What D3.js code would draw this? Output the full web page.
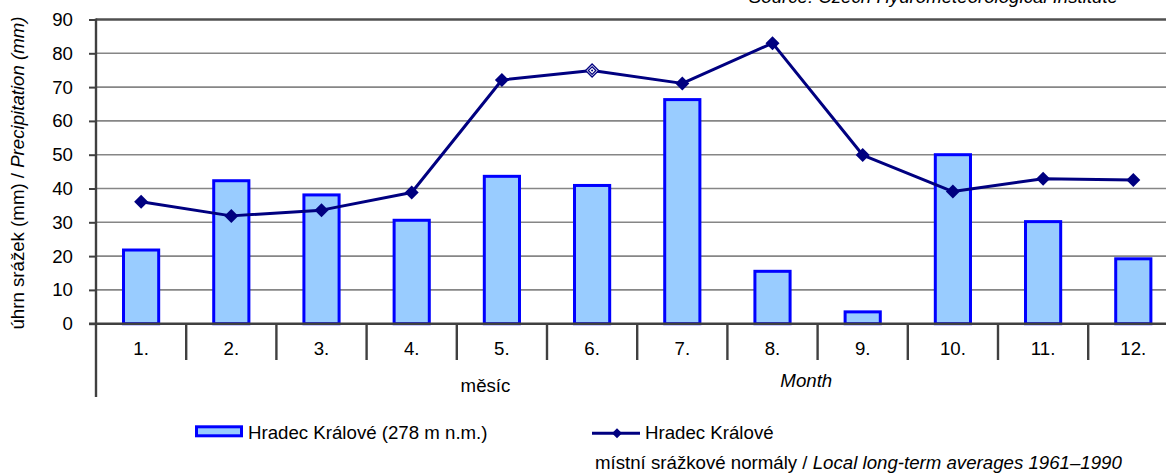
<!DOCTYPE html>
<html>
<head>
<meta charset="utf-8">
<script src="https://cdn.jsdelivr.net/npm/d3@7"></script>
<style>
  html, body { margin: 0; padding: 0; background: #fff; overflow: hidden; }
  svg { display: block; }
  text { font-family: "Liberation Sans", Arial, sans-serif; fill: #000; }
</style>
</head>
<body>
<svg id="chart" width="1166" height="473"></svg>
<script>
// ---- data ----
const months = ["1.", "2.", "3.", "4.", "5.", "6.", "7.", "8.", "9.", "10.", "11.", "12."];
const stationValues = [21.8, 42.3, 38.1, 30.6, 43.6, 40.9, 66.3, 15.5, 3.5, 50.0, 30.2, 19.2];
const normalValues = [36.1, 31.9, 33.6, 38.8, 72.1, 74.9, 71.1, 83.0, 49.9, 39.1, 42.9, 42.5];
const yTicks = [0, 10, 20, 30, 40, 50, 60, 70, 80, 90];
const hollowMarkerIndex = [5];
const yTitleCz = "úhrn srážek (mm) / ";
const yTitleEn = "Precipitation (mm)";
const xTitleCz = "měsíc";
const xTitleEn = "Month";
const legendBar = "Hradec Králové (278 m n.m.)";
const legendLine = "Hradec Králové";
const footerCz = "místní srážkové normály / ";
const footerEn = "Local long-term averages 1961–1990";
const sourceText = "Source: Czech Hydrometeorological Institute";

// ---- layout ----
const svg = d3.select("#chart");
const plotLeft = 96, plotRight = 1178.4, plotTop = 19.5, plotBottom = 323.7;
const fs = 18.67;
const axisColor = "#404040", gridColor = "#868686";

const x = d3.scaleBand().domain(months).range([plotLeft, plotRight]).padding(0);
const y = d3.scaleLinear().domain([0, 90]).range([plotBottom, plotTop]);

// gridlines
const gridG = svg.append("g");
gridG.selectAll("line").data(yTicks.filter(t => t > 0 && t < 90)).join("line")
  .attr("x1", plotLeft).attr("x2", plotRight)
  .attr("y1", d => y(d)).attr("y2", d => y(d))
  .attr("stroke", gridColor).attr("stroke-width", 1.6);
// top border line (at 90)
svg.append("line").attr("x1", plotLeft).attr("x2", plotRight)
  .attr("y1", y(90)).attr("y2", y(90))
  .attr("stroke", "#505050").attr("stroke-width", 2.4);

// y axis
const yAxis = d3.axisLeft(y).tickValues(yTicks).tickSize(7).tickPadding(16).tickFormat(d3.format("d"));
const yg = svg.append("g").attr("transform", `translate(${plotLeft},0)`).call(yAxis);
yg.select(".domain").remove();
yg.selectAll(".tick line").attr("stroke", axisColor).attr("stroke-width", 2);
yg.selectAll(".tick text").attr("font-size", fs).attr("font-family", "Liberation Sans, Arial, sans-serif").attr("fill", "#000");
svg.append("line").attr("x1", plotLeft).attr("x2", plotLeft).attr("y1", plotTop - 1).attr("y2", 397)
  .attr("stroke", axisColor).attr("stroke-width", 2.4);

// x axis (category level)
const xg = svg.append("g").attr("transform", `translate(0,${plotBottom})`)
  .call(d3.axisBottom(x).tickSize(0).tickPadding(0));
xg.select(".domain").remove();
xg.selectAll(".tick text").attr("font-size", fs).attr("y", 31.5).attr("dy", 0)
  .attr("font-family", "Liberation Sans, Arial, sans-serif").attr("fill", "#000");
svg.append("g").selectAll("line").data(months.slice(1)).join("line")
  .attr("x1", d => x(d)).attr("x2", d => x(d))
  .attr("y1", plotBottom).attr("y2", 360)
  .attr("stroke", axisColor).attr("stroke-width", 2.4);

// bars
const barW = x.bandwidth() * 0.39;
svg.append("g").selectAll("rect").data(stationValues).join("rect")
  .attr("x", (d, i) => x(months[i]) + x.bandwidth() / 2 - barW / 2)
  .attr("y", d => y(d))
  .attr("width", barW)
  .attr("height", d => plotBottom - y(d))
  .attr("fill", "#99CCFF").attr("stroke", "#0000FF").attr("stroke-width", 3);

// bottom axis line over bar bottoms
svg.append("line").attr("x1", plotLeft - 7).attr("x2", plotRight).attr("y1", plotBottom).attr("y2", plotBottom)
  .attr("stroke", axisColor).attr("stroke-width", 2.4);

// line
const cx = i => x(months[i]) + x.bandwidth() / 2;
const line = d3.line().x((d, i) => cx(i)).y(d => y(d));
svg.append("path").datum(normalValues).attr("d", line)
  .attr("fill", "none").attr("stroke", "#000080").attr("stroke-width", 3).attr("stroke-linejoin", "round");

const diamond = (r) => `M0,${-r}L${r},0L0,${r}L${-r},0Z`;
const mg = svg.append("g");
normalValues.forEach((v, i) => {
  const g = mg.append("g").attr("transform", `translate(${cx(i)},${y(v)})`);
  if (hollowMarkerIndex.includes(i)) {
    g.append("path").attr("d", diamond(6.5)).attr("fill", "#fff").attr("stroke", "#000080").attr("stroke-width", 1.3);
    g.append("path").attr("d", diamond(3.8)).attr("fill", "#fff").attr("stroke", "#000080").attr("stroke-width", 1.2);
    g.append("path").attr("d", diamond(1.2)).attr("fill", "#000080");
  } else {
    g.append("path").attr("d", diamond(7)).attr("fill", "#000080");
  }
});

// y axis title
const yt = svg.append("text").attr("transform", "translate(24,173) rotate(-90)")
  .attr("text-anchor", "middle").attr("font-size", fs);
yt.append("tspan").text(yTitleCz);
yt.append("tspan").attr("font-style", "italic").text(yTitleEn);

// x axis titles
svg.append("text").attr("x", 485.5).attr("y", 391.5).attr("text-anchor", "middle").attr("font-size", fs).text(xTitleCz);
svg.append("text").attr("x", 806.3).attr("y", 386.7).attr("text-anchor", "middle").attr("font-size", fs)
  .attr("font-style", "italic").text(xTitleEn);

// legend
svg.append("rect").attr("x", 196.5).attr("y", 426.8).attr("width", 45).attr("height", 9)
  .attr("fill", "#99CCFF").attr("stroke", "#0000FF").attr("stroke-width", 3);
svg.append("text").attr("x", 248).attr("y", 439).attr("font-size", fs).text(legendBar);
svg.append("line").attr("x1", 592).attr("x2", 640).attr("y1", 433.3).attr("y2", 433.3)
  .attr("stroke", "#000080").attr("stroke-width", 3);
svg.append("path").attr("d", diamond(5)).attr("transform", "translate(617,433.3)").attr("fill", "#000080");
svg.append("text").attr("x", 645).attr("y", 439).attr("font-size", fs).text(legendLine);

// footer
const ft = svg.append("text").attr("x", 595).attr("y", 468.5).attr("font-size", fs);
ft.append("tspan").text(footerCz);
ft.append("tspan").attr("font-style", "italic").text(footerEn);

// source (cut at top, as in the reference)
svg.append("text").attr("x", 1118).attr("y", 3).attr("text-anchor", "end").attr("font-size", fs)
  .attr("font-style", "italic").text(sourceText);
</script>
</body>
</html>
